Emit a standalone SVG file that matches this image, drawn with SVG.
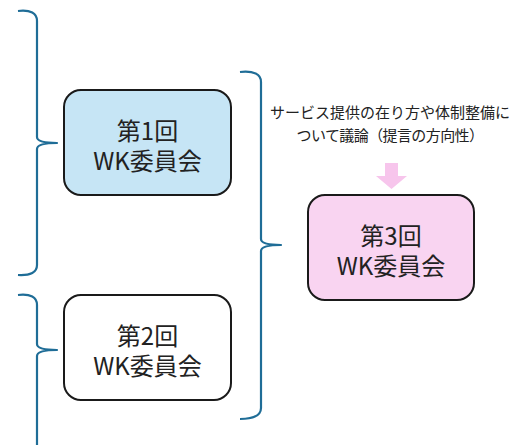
<svg xmlns="http://www.w3.org/2000/svg" width="522" height="445" viewBox="0 0 522 445">
<style>
.brace{fill:none;stroke:#1f6d97;stroke-width:2.2;stroke-linejoin:round}
.box{stroke:#1a1a1a;stroke-width:2}
.t{font-family:"Noto Sans CJK JP","Noto Sans",sans-serif;fill:#222;text-anchor:middle}
.big{font-size:24px}
.small{font-size:15px}
</style>
<rect width="522" height="445" fill="#ffffff"/>
<g id="connectors">
<path class="brace" d="M18,11 Q37,9 37,21 L37,137 Q37,143 57,143 Q37,143 37,149 L37,265 Q37,276 18,275"/>
<path class="brace" d="M18,295 Q37,293 37,305 L37,344 Q37,350 57,350 Q37,350 37,356 L37,446"/>
<path class="brace" d="M240,72 Q261,70 261,82 L261,239 Q261,245 281,245 Q261,245 261,251 L261,408 Q261,419 240,419"/>
<polygon points="385,163 398,163 398,176 407,176 391.5,189 376,176 385,176" fill="#f7c5ec"/>
</g>
<g id="note">
<text class="t small" x="390" y="118">サービス提供の在り方や体制整備に<tspan x="390" y="141" letter-spacing="-0.6">ついて議論（提言の方向性）</tspan></text>
</g>
<g id="node1">
<rect class="box" x="64" y="90" width="167" height="105" rx="17" fill="#c6e5f5"/>
<text class="t big" x="147.5" y="140">第1回<tspan x="147.5" y="170">WK委員会</tspan></text>
</g>
<g id="node2">
<rect class="box" x="64" y="295" width="167" height="105" rx="17" fill="#ffffff"/>
<text class="t big" x="147.5" y="345">第2回<tspan x="147.5" y="375">WK委員会</tspan></text>
</g>
<g id="node3">
<rect class="box" x="308" y="195" width="166" height="105" rx="17" fill="#f9d4f1"/>
<text class="t big" x="391" y="245">第3回<tspan x="391" y="275">WK委員会</tspan></text>
</g>
</svg>
